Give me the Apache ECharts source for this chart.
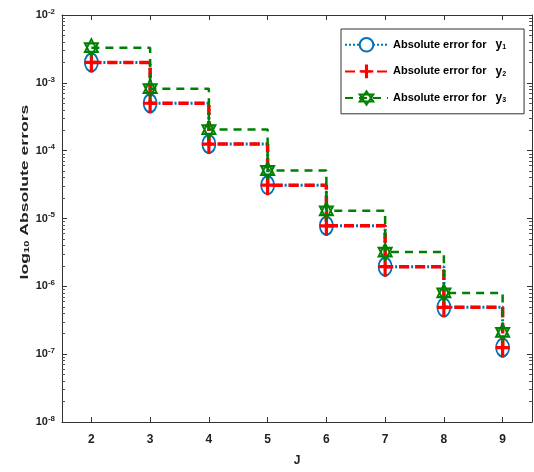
<!DOCTYPE html>
<html><head><meta charset="utf-8">
<script src="https://cdn.jsdelivr.net/npm/echarts@6/dist/echarts.min.js"></script>
<style>html,body{margin:0;padding:0;background:#fff}#c{width:534px;height:472px}</style>
</head><body><div id="c"></div>
<script>
const categories = ['2','3','4','5','6','7','8','9'];
const y1 = [2.0e-3, 5.0e-4, 1.25e-4, 3.1e-5, 7.8e-6, 1.95e-6, 4.9e-7, 1.25e-7];
const y2 = [2.0e-3, 5.0e-4, 1.25e-4, 3.1e-5, 7.8e-6, 1.95e-6, 4.9e-7, 1.25e-7];
const y3 = [3.3e-3, 8.2e-4, 2.05e-4, 5.1e-5, 1.3e-5, 3.2e-6, 8.0e-7, 2.1e-7];
const seriesNames = ['y1', 'y2', 'y3'];

const FONT = '"Liberation Sans", Arial, sans-serif';
const blue = '#0072BD', red = '#FF0000', green = '#008000';
const plusPath = 'path://M-1.6,-10L1.6,-10L1.6,-1.6L7,-1.6L7,1.6L1.6,1.6L1.6,10L-1.6,10L-1.6,1.6L-7,1.6L-7,-1.6L-1.6,-1.6Z';
const starPath = 'path://M0,-10L8.66,5L-8.66,5ZM0,10L-8.66,-5L8.66,-5Z';

const chart = echarts.init(document.getElementById('c'), null, {renderer: 'canvas'});
const tickStyle = {show: true, inside: true, length: 5, lineStyle: {color: '#333'}};
const minorStyle = {show: true, splitNumber: 9, length: 3, lineStyle: {color: '#555'}};
const axisLineStyle = {show: true, lineStyle: {color: '#333', width: 1}};

const circleItem = {color: blue, borderColor: blue, borderWidth: 2.5};
const plusItem = {color: red, borderWidth: 0};
const starItem = {color: 'rgba(255,255,255,0)', borderColor: green, borderWidth: 2};

chart.setOption({
  animation: false,
  textStyle: {fontFamily: FONT},
  grid: {left: 62, right: 2, top: 15, bottom: 47},
  graphic: [{
    type: 'text', x: 25, y: 192, rotation: Math.PI / 2, scaleX: 1.6, scaleY: 1,
    style: {
      text: '{a|log}{s|10}{a| Absolute errors}',
      align: 'center', verticalAlign: 'middle',
      rich: {
        a: {fontFamily: FONT, fontSize: 11, fontWeight: 'bold', fill: '#222'},
        s: {fontFamily: FONT, fontSize: 7, fontWeight: 'bold', fill: '#222', padding: [5, 0, 0, 0]}
      }
    }
  }],
  legend: {
    orient: 'vertical', left: 341, top: 29,
    backgroundColor: '#fff', borderColor: '#333', borderWidth: 1,
    padding: [8, 18, 8, 3], itemGap: 12, itemWidth: 43, itemHeight: 17, itemTextGap: 1,
    data: [
      {name: 'y1', itemStyle: circleItem},
      {name: 'y2', itemStyle: plusItem},
      {name: 'y3', itemStyle: starItem}
    ],
    formatter: function (n) { return '{t|Absolute error for}{v|y}{s|' + n.slice(1) + '}'; },
    textStyle: {
      fontFamily: FONT, color: '#000', fontWeight: 'bold',
      rich: {
        t: {fontFamily: FONT, fontSize: 11, fontWeight: 'bold', color: '#000'},
        v: {fontFamily: FONT, fontSize: 12, fontWeight: 'bold', color: '#000', padding: [0, 0, 0, 9]},
        s: {fontFamily: FONT, fontSize: 7, fontWeight: 'bold', color: '#000', padding: [5, 0, 0, 0]}
      }
    }
  },
  xAxis: [{
    type: 'category', data: categories, boundaryGap: true, position: 'bottom',
    name: 'J', nameLocation: 'middle', nameGap: 33,
    nameTextStyle: {fontFamily: FONT, fontSize: 12, fontWeight: 'bold', color: '#222'},
    axisLine: axisLineStyle,
    axisTick: Object.assign({alignWithLabel: true}, tickStyle),
    axisLabel: {fontFamily: FONT, fontSize: 12, fontWeight: 'bold', color: '#222', margin: 12},
    splitLine: {show: false}
  }, {
    type: 'category', data: categories, boundaryGap: true, position: 'top',
    axisLine: axisLineStyle,
    axisTick: Object.assign({alignWithLabel: true}, tickStyle),
    axisLabel: {show: false}, splitLine: {show: false}
  }],
  yAxis: [{
    type: 'log', logBase: 10, min: 1e-8, max: 1e-2, position: 'left',
    axisLine: axisLineStyle, axisTick: tickStyle, minorTick: minorStyle,
    axisLabel: {
      fontFamily: FONT, color: '#222', margin: 7,
      formatter: function (v) { return '{b|10}{e|' + Math.round(Math.log10(v)) + '}'; },
      rich: {
        b: {fontFamily: FONT, fontSize: 11, fontWeight: 'bold', color: '#222'},
        e: {fontFamily: FONT, fontSize: 8, fontWeight: 'bold', color: '#222', padding: [0, 0, 7, 0]}
      }
    },
    splitLine: {show: false}
  }, {
    type: 'log', logBase: 10, min: 1e-8, max: 1e-2, position: 'right',
    axisLine: axisLineStyle, axisTick: tickStyle, minorTick: minorStyle,
    axisLabel: {show: false}, splitLine: {show: false}
  }],
  series: [{
    name: 'y1', type: 'line', step: 'end', data: y1, xAxisIndex: 0, yAxisIndex: 0,
    symbol: 'emptyCircle', symbolSize: [13, 18], showAllSymbol: true,
    lineStyle: {color: blue, width: 3, type: [2, 2]},
    itemStyle: circleItem, z: 2
  }, {
    name: 'y2', type: 'line', step: 'end', data: y2, xAxisIndex: 0, yAxisIndex: 0,
    symbol: plusPath, symbolSize: [14, 20], showAllSymbol: true,
    lineStyle: {color: red, width: 3.5, type: [10, 6]},
    itemStyle: plusItem, z: 3
  }, {
    name: 'y3', type: 'line', step: 'end', data: y3, xAxisIndex: 0, yAxisIndex: 0,
    symbol: starPath, symbolSize: [13, 17], showAllSymbol: true,
    lineStyle: {color: green, width: 2.5, type: [8, 6]},
    itemStyle: starItem, z: 4
  }]
});
</script></body></html>
